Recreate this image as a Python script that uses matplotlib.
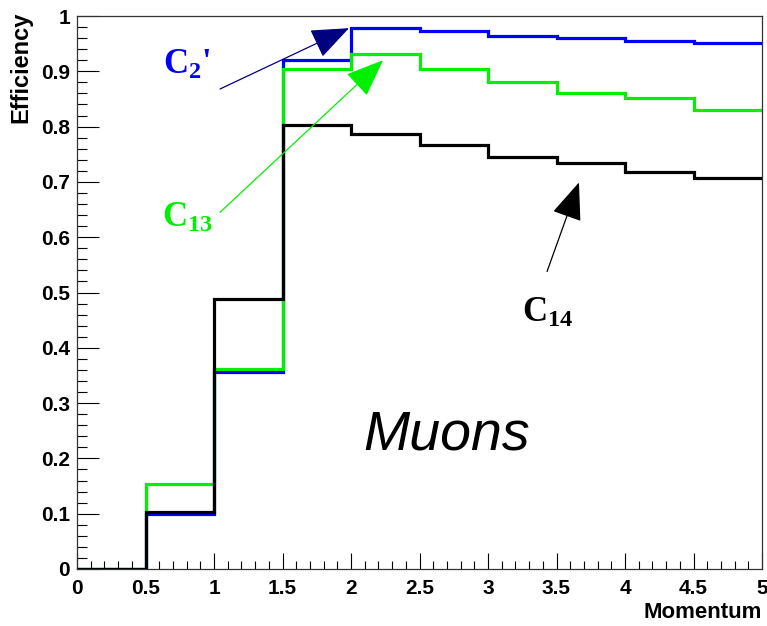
import numpy as np
import matplotlib
matplotlib.use("Agg")
import matplotlib.pyplot as plt
from matplotlib import font_manager as fm
from matplotlib.ticker import MultipleLocator, FixedLocator, FixedFormatter

# ---------------- data ----------------
bin_edges = [0.0, 0.5, 1.0, 1.5, 2.0, 2.5, 3.0, 3.5, 4.0, 4.5, 5.0]
eff_c2p = [0.0, 0.100, 0.356, 0.920, 0.979, 0.972, 0.964, 0.960, 0.955, 0.952]
eff_c13 = [0.0, 0.153, 0.362, 0.904, 0.931, 0.904, 0.880, 0.861, 0.851, 0.830]
eff_c14 = [0.0, 0.103, 0.489, 0.802, 0.787, 0.766, 0.745, 0.734, 0.717, 0.707]

x_ticks = [0, 0.5, 1, 1.5, 2, 2.5, 3, 3.5, 4, 4.5, 5]
x_tick_labels = ["0", "0.5", "1", "1.5", "2", "2.5", "3", "3.5", "4", "4.5", "5"]
y_ticks = [0, 0.1, 0.2, 0.3, 0.4, 0.5, 0.6, 0.7, 0.8, 0.9, 1.0]
y_tick_labels = ["0", "0.1", "0.2", "0.3", "0.4", "0.5", "0.6", "0.7", "0.8", "0.9", "1"]

# ---------------- fonts ----------------
names = {f.name for f in fm.fontManager.ttflist}
if "Liberation Sans Narrow" in names:
    sans_cond = "Liberation Sans Narrow"
elif "DejaVu Sans Condensed" in names:
    sans_cond = "DejaVu Sans Condensed"
else:
    sans_cond = "Liberation Sans"

plt.rcParams["mathtext.fontset"] = "custom"
plt.rcParams["mathtext.rm"] = "Liberation Serif:bold"
plt.rcParams["mathtext.it"] = "Liberation Serif:bold"
plt.rcParams["mathtext.bf"] = "Liberation Serif:bold"

W, H = 767, 626
fig = plt.figure(figsize=(W / 100, H / 100), dpi=100)
ax = fig.add_axes([77 / W, (H - 569) / H, (762 - 77) / W, (569 - 16) / H])

GREEN = "#00f000"
lw = 2.3
ax.stairs(eff_c2p, bin_edges, color="#0000ff", lw=lw, baseline=None, zorder=3)
ax.stairs(eff_c13, bin_edges, color=GREEN, lw=lw, baseline=None, zorder=4)
ax.stairs(eff_c14, bin_edges, color="black", lw=lw, baseline=None, zorder=5)

ax.set_xlim(0, 5)
ax.set_ylim(0, 1)

ax.xaxis.set_major_locator(FixedLocator(x_ticks))
ax.xaxis.set_major_formatter(FixedFormatter(x_tick_labels))
ax.yaxis.set_major_locator(FixedLocator(y_ticks))
ax.yaxis.set_major_formatter(FixedFormatter(y_tick_labels))
ax.xaxis.set_minor_locator(MultipleLocator(0.1))
ax.yaxis.set_minor_locator(MultipleLocator(0.02))

ax.tick_params(axis="x", which="major", direction="in", length=11.5, width=0.8, pad=7)
ax.tick_params(axis="x", which="minor", direction="in", length=5.8, width=0.8)
ax.tick_params(axis="y", which="major", direction="in", length=15.6, width=0.8, pad=5)
ax.tick_params(axis="y", which="minor", direction="in", length=7.2, width=0.8)
for lab in ax.get_xticklabels() + ax.get_yticklabels():
    lab.set_fontfamily(sans_cond)
    lab.set_fontweight("bold")
    lab.set_fontsize(15)
for s in ax.spines.values():
    s.set_linewidth(0.9)
    s.set_color("#333333")

fig.text(762 / W, 1 - 612 / H, "Momentum", ha="right", va="center",
         fontfamily=sans_cond, fontweight="bold", fontsize=16)
fig.text(21 / W, 1 - 12 / H, "Efficiency", ha="center", va="top", rotation=90,
         fontfamily=sans_cond, fontweight="bold", fontsize=17)

# annotations
def arrow(tail, tip, color, headcolor):
    ax.annotate("", xy=tip, xytext=tail,
                arrowprops=dict(arrowstyle="-|>,head_length=0.5,head_width=0.2",
                                mutation_scale=48, lw=0.9, color=color,
                                fc=headcolor, ec=headcolor, shrinkA=0, shrinkB=0),
                zorder=6)

arrow((1.044, 0.868), (1.985, 0.978), "#000080", "#000080")
arrow((1.044, 0.645), (2.234, 0.920), GREEN, GREEN)
arrow((3.431, 0.538), (3.664, 0.699), "black", "black")

ax.text(0.63, 0.895, "C$_{2}$'", color="#0000ff", fontfamily="Liberation Serif",
        fontweight="bold", fontsize=25, ha="left", va="baseline")
ax.text(0.62, 0.618, "C$_{13}$", color=GREEN, fontfamily="Liberation Serif",
        fontweight="bold", fontsize=25, ha="left", va="baseline")
ax.text(3.248, 0.447, "C$_{14}$", color="black", fontfamily="Liberation Serif",
        fontweight="bold", fontsize=25, ha="left", va="baseline")
ax.text(2.088, 0.216, "Muons", color="black", fontfamily="Liberation Sans",
        style="italic", fontsize=40, ha="left", va="baseline")

fig.savefig("out.png", dpi=100)
